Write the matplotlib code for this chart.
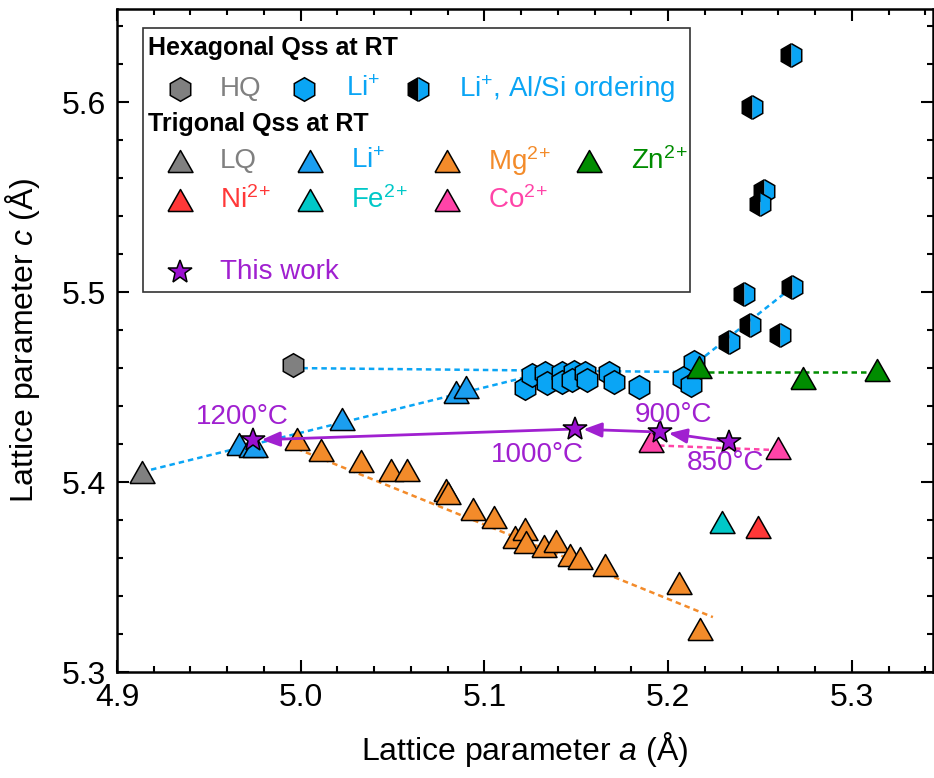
import numpy as np
import matplotlib
matplotlib.use('Agg')
import matplotlib.pyplot as plt
from matplotlib.patches import Rectangle
from matplotlib.ticker import MultipleLocator, FormatStrFormatter

plt.rcParams['font.family'] = ['Liberation Sans', 'DejaVu Sans']
plt.rcParams['mathtext.fontset'] = 'custom'
plt.rcParams['mathtext.rm'] = 'Liberation Sans'
plt.rcParams['mathtext.it'] = 'Liberation Sans:italic'
plt.rcParams['mathtext.bf'] = 'Liberation Sans:bold'

# ---- data (a, c in Angstrom) ----
hq_a = [4.9957]
hq_c = [5.4616]

li_hex_a = [5.1222, 5.1259, 5.1330, 5.1341, 5.1422, 5.1422, 5.1486, 5.1476,
            5.1546, 5.1557, 5.1676, 5.1703, 5.1843, 5.2141, 5.2081, 5.2124]
li_hex_c = [5.4495, 5.4563, 5.4574, 5.4521, 5.4574, 5.4526, 5.4579, 5.4537,
            5.4574, 5.4537, 5.4574, 5.4526, 5.4500, 5.4632, 5.4547, 5.4511]

ord_a = [5.2670, 5.2454, 5.2519, 5.2497, 5.2411, 5.2676, 5.2443, 5.2330, 5.2611]
ord_c = [5.6247, 5.5974, 5.5532, 5.5463, 5.4989, 5.5026, 5.4826, 5.4737, 5.4774]

lq_a = [4.9135]
lq_c = [5.4053]

li_tri_a = [4.9665, 4.9730, 4.9751, 5.0222, 5.0843, 5.0897]
li_tri_c = [5.4200, 5.4190, 5.4190, 5.4332, 5.4474, 5.4500]

mg_a = [4.9978, 5.0108, 5.0330, 5.0492, 5.0578, 5.0789, 5.0800, 5.0935,
        5.1054, 5.1168, 5.1222, 5.1227, 5.1324, 5.1389, 5.1465, 5.1519,
        5.1654, 5.2059, 5.2173]
mg_c = [5.4226, 5.4168, 5.4111, 5.4063, 5.4063, 5.3958, 5.3942, 5.3858,
        5.3816, 5.3711, 5.3753, 5.3684, 5.3663, 5.3689, 5.3616, 5.3600,
        5.3563, 5.3468, 5.3226]

zn_a = [5.2168, 5.2735, 5.3135]
zn_c = [5.4605, 5.4547, 5.4589]

ni_a = [5.2486]
ni_c = [5.3763]
fe_a = [5.2292]
fe_c = [5.3789]
co_a = [5.1908, 5.2595]
co_c = [5.4216, 5.4179]

# this work: 850, 900, 1000, 1200 C
tw_a = [5.2330, 5.1957, 5.1492, 4.9741]
tw_c = [5.4211, 5.4263, 5.4279, 5.4221]
tw_labels = ['850°C', '900°C', '1000°C', '1200°C']
tw_label_a = [5.2314, 5.2030, 5.1286, 4.9681]
tw_label_c = [5.4100, 5.4355, 5.4142, 5.4342]

# guide lines
blue_line1_a = [4.9135, 5.1280]
blue_line1_c = [5.4053, 5.4565]
blue_line2_a = [4.9957, 5.2114]
blue_line2_c = [5.4600, 5.4579]
blue_line3_a = [5.2160, 5.2676]
blue_line3_c = [5.4632, 5.5026]
mg_line_a = [4.9980, 5.2243]
mg_line_c = [5.4175, 5.3289]
zn_line_a = [5.2168, 5.3135]
zn_line_c = [5.4579, 5.4579]
co_line_a = [5.1950, 5.2595]
co_line_c = [5.4192, 5.4168]

# ---- colours ----
GRAY = '#808080'
BLUE = '#0aa5f5'
BLUE_T = '#1b9ef0'
ORANGE = '#f38b2a'
GREEN = '#008c00'
RED = '#ff3838'
CYAN = '#00c8c8'
PINK = '#ff44a8'
PURPLE = '#9b10d0'
PURPLE_T = '#a020d0'

TRI = [(-1, -0.88), (1, -0.88), (0, 0.88), (-1, -0.88)]
HEX_MS = 17
TRI_MS = 18
STAR_MS = 18

fig = plt.figure(figsize=(9.34, 7.78), dpi=100)
ax = fig.add_axes([117 / 934, 106 / 778, 816 / 934, 663 / 778])

dash = dict(ls=(0, (2.2, 1.6)), lw=1.8)
ax.plot(blue_line1_a, blue_line1_c, color=BLUE, zorder=1, **dash)
ax.plot(blue_line2_a, blue_line2_c, color=BLUE, zorder=1, **dash)
ax.plot(blue_line3_a, blue_line3_c, color=BLUE, zorder=1, **dash)
ax.plot(mg_line_a, mg_line_c, color=ORANGE, zorder=1, **dash)
ax.plot(zn_line_a, zn_line_c, color=GREEN, zorder=1, **dash)
ax.plot(co_line_a, co_line_c, color=PINK, zorder=1, **dash)

mk = dict(ls='none', mec='black', mew=1.1)
ax.plot(hq_a, hq_c, marker='h', ms=HEX_MS, mfc=GRAY, zorder=3, **mk)
ax.plot(li_hex_a, li_hex_c, marker='h', ms=HEX_MS, mfc=BLUE, zorder=3, **mk)
ax.plot(ord_a, ord_c, marker='h', ms=HEX_MS, mfc='black', mfcalt=BLUE,
        fillstyle='left', zorder=3, **mk)

ax.plot(lq_a, lq_c, marker=TRI, ms=TRI_MS, mfc=GRAY, zorder=4, **mk)
ax.plot(li_tri_a, li_tri_c, marker=TRI, ms=TRI_MS, mfc=BLUE_T, zorder=4, **mk)
ax.plot(mg_a, mg_c, marker=TRI, ms=TRI_MS, mfc=ORANGE, zorder=4, **mk)
ax.plot(zn_a, zn_c, marker=TRI, ms=TRI_MS, mfc=GREEN, zorder=4, **mk)
ax.plot(ni_a, ni_c, marker=TRI, ms=TRI_MS, mfc=RED, zorder=4, **mk)
ax.plot(fe_a, fe_c, marker=TRI, ms=TRI_MS, mfc=CYAN, zorder=4, **mk)
ax.plot(co_a, co_c, marker=TRI, ms=TRI_MS, mfc=PINK, zorder=4, **mk)

# arrows between annealing temperatures
for i in range(len(tw_a) - 1):
    ax.annotate('', xy=(tw_a[i + 1], tw_c[i + 1]), xytext=(tw_a[i], tw_c[i]),
                arrowprops=dict(arrowstyle='-|>,head_length=0.55,head_width=0.22',
                                color=PURPLE_T, lw=2, shrinkA=0, shrinkB=6,
                                mutation_scale=20),
                zorder=5)
ax.plot(tw_a, tw_c, marker='*', ms=STAR_MS, mfc=PURPLE, zorder=6, **mk)
for lab, la, lc in zip(tw_labels, tw_label_a, tw_label_c):
    ax.text(la, lc, lab, color=PURPLE_T, fontsize=20, ha='center', va='center', zorder=7)

# ---- axes ----
ax.set_xlim(4.9, 5.3441)
ax.set_ylim(5.3, 5.649)
ax.xaxis.set_major_locator(MultipleLocator(0.1))
ax.xaxis.set_minor_locator(MultipleLocator(0.02))
ax.yaxis.set_major_locator(MultipleLocator(0.1))
ax.yaxis.set_minor_locator(MultipleLocator(0.02))
ax.xaxis.set_major_formatter(FormatStrFormatter('%.1f'))
ax.yaxis.set_major_formatter(FormatStrFormatter('%.1f'))
ax.tick_params(which='both', direction='in', top=True, right=True, width=1.5)
ax.tick_params(which='major', length=8.5, labelsize=23, pad=8)
ax.tick_params(which='minor', length=4.5)
for s in ax.spines.values():
    s.set_linewidth(1.8)
ax.set_xlabel('Lattice parameter $\\mathit{a}$ (Å)', fontsize=23, labelpad=12)
ax.set_ylabel('Lattice parameter $\\mathit{c}$ (Å)', fontsize=23, labelpad=14)

# ---- legend (hand laid out) ----
T = ax.transAxes
ax.add_patch(Rectangle((0.0319, 0.5732), 0.6703, 0.3981, transform=T,
                       fill=False, ec='#333333', lw=1.2, zorder=8))
hdr = dict(transform=T, fontsize=18, fontweight='bold', va='center', ha='left', zorder=9)
ax.text(0.038, 0.9412, 'Hexagonal Qss at RT', **hdr)
ax.text(0.038, 0.8265, 'Trigonal Qss at RT', **hdr)

lmk = dict(transform=T, ls='none', mec='black', mew=1.1, clip_on=False, zorder=9)
ent = dict(transform=T, fontsize=20, va='center', ha='left', zorder=9)

y2 = 0.8796
ax.plot([0.0766], [y2], marker='h', ms=HEX_MS, mfc=GRAY, **lmk)
ax.text(0.1259, y2, 'HQ', color=GRAY, **ent)
ax.plot([0.2287], [y2], marker='h', ms=HEX_MS, mfc=BLUE, **lmk)
ax.text(0.2801, y2, 'Li$^{+}$', color=BLUE, **ent)
ax.plot([0.3689], [y2], marker='h', ms=HEX_MS, mfc='black', mfcalt=BLUE,
        fillstyle='left', **lmk)
ax.text(0.4188, y2, 'Li$^{+}$, Al/Si ordering', color=BLUE, **ent)

y4 = 0.7707
y5 = 0.7119
tri_rows = [
    (0.0766, 0.1259, y4, GRAY, GRAY, 'LQ'),
    (0.2363, 0.2868, y4, BLUE_T, BLUE, 'Li$^{+}$'),
    (0.4040, 0.4547, y4, ORANGE, ORANGE, 'Mg$^{2}$$^{+}$'),
    (0.5787, 0.6299, y4, GREEN, GREEN, 'Zn$^{2}$$^{+}$'),
    (0.0766, 0.1259, y5, RED, RED, 'Ni$^{2}$$^{+}$'),
    (0.2363, 0.2868, y5, CYAN, CYAN, 'Fe$^{2}$$^{+}$'),
    (0.4040, 0.4547, y5, PINK, PINK, 'Co$^{2}$$^{+}$'),
]
for mx, tx, yy, fc, tc, lab in tri_rows:
    ax.plot([mx], [yy], marker=TRI, ms=TRI_MS, mfc=fc, **lmk)
    ax.text(tx, yy, lab, color=tc, **ent)

y6 = 0.6033
ax.plot([0.0766], [y6], marker='*', ms=STAR_MS, mfc=PURPLE, **lmk)
ax.text(0.1259, y6, 'This work', color=PURPLE_T, **ent)

fig.savefig('out.png', dpi=100)
